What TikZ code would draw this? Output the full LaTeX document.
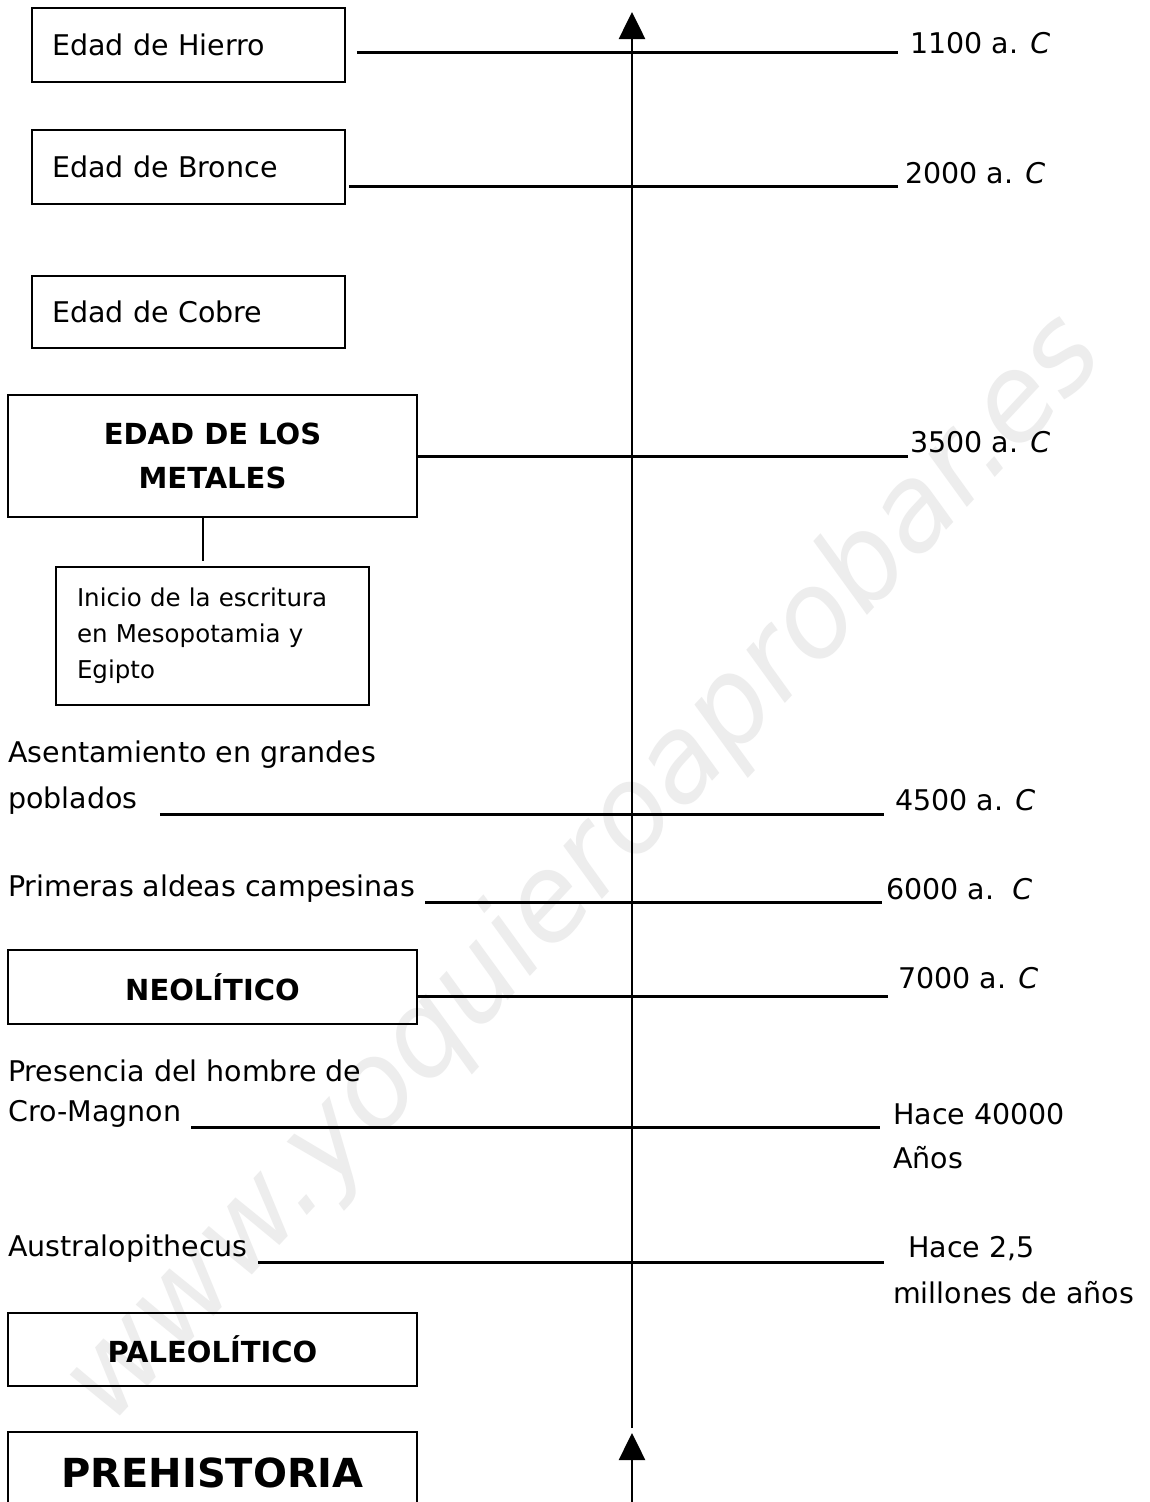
\documentclass[tikz,border=0pt]{standalone}
\usepackage{fontspec}
\setmainfont{DejaVu Sans}
\usetikzlibrary{arrows.meta,calc}
\tikzset{
  txt/.style={font=\fontsize{28.5}{46}\selectfont, inner sep=0pt},
  small/.style={font=\fontsize{24.5}{36}\selectfont},
  boldtxt/.style={font=\fontsize{29}{44}\bfseries\selectfont},
  box/.style={draw, line width=1.5pt, inner sep=0pt, rectangle},
  leftbox/.style={txt, box, align=left, inner xsep=20pt, text width=273pt},
  rule/.style={line width=3pt},
  axis/.style={line width=2.6pt, -{Triangle[width=26pt,length=27pt]}},
  linkline/.style={line width=2pt}
}
\begin{document}
\begin{tikzpicture}[x=1pt,y=-1pt]
\useasboundingbox (0,0) rectangle (1149,1502);
\fill[white] (0,0) rectangle (1149,1502);
% watermark
\node[text=black!7, rotate=47, font=\fontsize{118}{118}\itshape\selectfont] (wm) at (585,870) {www.yoquieroaprobar.es};

% axis
\coordinate (axtop) at (632,12);
\coordinate (axlow) at (632,1428);
\coordinate (axbot) at (632,1530);
\coordinate (axtip) at (632,1433);
\draw[axis] (axlow) -- (axtop);
\draw[axis] (axbot) -- (axtip);

% boxes
\node[leftbox, minimum height=74pt] (hierro) at (188.5,45) {Edad de Hierro};
\node[leftbox, minimum height=74pt] (bronce) at (188.5,167) {Edad de Bronce};
\node[leftbox, minimum height=72pt] (cobre) at (188.5,312) {Edad de Cobre};
\node[box, boldtxt, align=center, minimum width=409pt, minimum height=122pt] (metales) at (212.5,456) {EDAD DE LOS\\METALES};
\node[box, small, align=left, inner xsep=21pt, text width=271pt, minimum height=138pt] (inicio) at (212.5,636) {Inicio de la escritura\\en Mesopotamia y\\Egipto};
\node[box, boldtxt, minimum width=409pt, minimum height=74pt] (neolitico) at (212.5,987) {NEOLÍTICO};
\node[box, boldtxt, minimum width=409pt, minimum height=73pt] (paleolitico) at (212.5,1349.5) {PALEOLÍTICO};
\node[box, minimum width=409pt, minimum height=100pt] (prehistoria) at (212.5,1482) {};
\node[font=\fontsize{40}{40}\bfseries\selectfont, inner sep=0pt] (prehtxt) at (212.5,1473) {PREHISTORIA};

\draw[linkline] ([xshift=-10pt]metales.south) -- ([xshift=-10pt,yshift=5pt]inicio.north);

% left texts
\node[txt, anchor=west] (asent) at (8,755) {Asentamiento en grandes};
\node[txt, anchor=west] (poblados) at (8,801) {poblados};
\node[txt, anchor=west] (primeras) at (8,889) {Primeras aldeas campesinas};
\node[txt, anchor=west] (presencia) at (8,1071) {Presencia del hombre de};
\node[txt, anchor=west] (cro) at (8,1114) {Cro-Magnon};
\node[txt, anchor=west] (austr) at (8,1249) {Australopithecus};

% right labels
\node[txt, anchor=west] (l1100) at (910,43) {1100 a. \textit{C}};
\node[txt, anchor=west] (l2000) at (905,173) {2000 a. \textit{C}};
\node[txt, anchor=west] (l3500) at (910,442) {3500 a. \textit{C}};
\node[txt, anchor=west] (l4500) at (895,800) {4500 a. \textit{C}};
\node[txt, anchor=west] (l6000) at (886,889) {6000 a.\ \ \textit{C}};
\node[txt, anchor=west] (l7000) at (898,978) {7000 a. \textit{C}};
\node[txt, anchor=west] (l40000) at (893,1114) {Hace 40000};
\node[txt, anchor=west] (anos) at (893,1158) {Años};
\node[txt, anchor=west] (l25) at (908,1249) {Hace 2,5};
\node[txt, anchor=west] (millones) at (893,1293) {millones de años};

% rules
\draw[rule] ([xshift=11pt]hierro.east |- 0,52) -- (898,52);
\draw[rule] ([xshift=3pt]bronce.east |- 0,186) -- (898,186);
\draw[rule] (metales.east |- 0,456) -- (908,456);
\draw[rule] ([xshift=22pt]poblados.east |- 0,814) -- (884,814);
\draw[rule] ([xshift=10pt]primeras.east |- 0,902) -- (882,902);
\draw[rule] (neolitico.east |- 0,996) -- (888,996);
\draw[rule] ([xshift=10pt]cro.east |- 0,1127) -- (880,1127);
\draw[rule] ([xshift=10pt]austr.east |- 0,1262) -- (884,1262);
\end{tikzpicture}
\end{document}
